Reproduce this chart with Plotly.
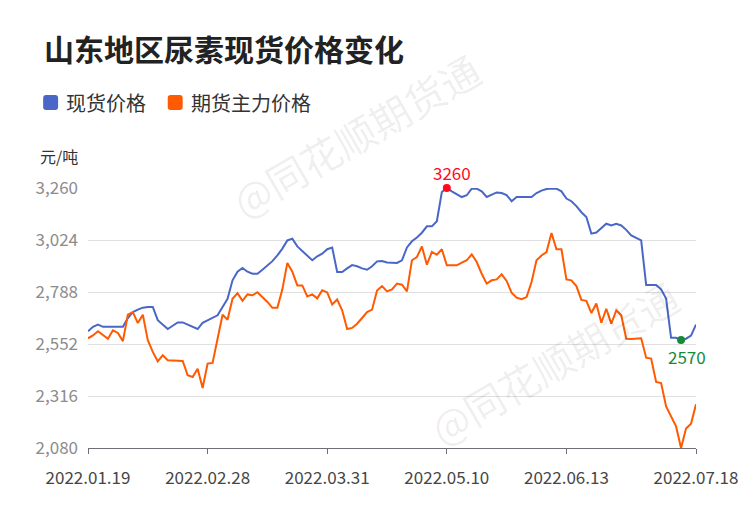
import plotly.graph_objects as go

# ---------------- data ----------------
DATE_LABELS = ["2022.01.19", "2022.02.28", "2022.03.31", "2022.05.10", "2022.06.13", "2022.07.18"]
LABEL_IDX = [0, 24, 48, 72, 96, 122]   # category positions of the labelled dates
Y_TICKS = [2080, 2316, 2552, 2788, 3024, 3260]

SPOT = [  # 现货价格
    2610, 2630, 2640, 2630, 2630, 2630, 2630, 2630, 2670, 2697,
    2708, 2717, 2720, 2720, 2660, 2640, 2620, 2635, 2650, 2650,
    2640, 2630, 2620, 2648, 2660, 2670, 2682, 2720, 2757, 2841,
    2880, 2897, 2880, 2871, 2871, 2889, 2909, 2928, 2954, 2985,
    3022, 3030, 2995, 2974, 2955, 2932, 2950, 2962, 2982, 2990,
    2879, 2879, 2895, 2910, 2905, 2895, 2889, 2905, 2927, 2929,
    2922, 2920, 2920, 2932, 2990, 3018, 3035, 3057, 3086, 3086,
    3109, 3242, 3260, 3245, 3232, 3219, 3227, 3257, 3257, 3245,
    3219, 3230, 3240, 3237, 3228, 3200, 3219, 3219, 3219, 3219,
    3237, 3248, 3255, 3258, 3257, 3245, 3212, 3200, 3178, 3150,
    3128, 3053, 3058, 3080, 3098, 3090, 3098, 3090, 3070, 3045,
    3032, 3022, 2820, 2820, 2820, 2800, 2758, 2580, 2580, 2570,
    2576, 2590, 2640,
]
FUTURES = [  # 期货主力价格
    2578, 2591, 2610, 2594, 2576, 2614, 2602, 2565, 2685, 2697,
    2647, 2685, 2569, 2516, 2473, 2501, 2478, 2477, 2476, 2475,
    2410, 2402, 2440, 2352, 2463, 2466, 2576, 2685, 2662, 2757,
    2783, 2748, 2777, 2773, 2787, 2765, 2743, 2716, 2716, 2800,
    2920, 2880, 2818, 2818, 2768, 2777, 2759, 2796, 2786, 2731,
    2754, 2705, 2620, 2625, 2644, 2670, 2697, 2708, 2795, 2815,
    2791, 2800, 2826, 2821, 2791, 2932, 2947, 2995, 2912, 2970,
    2957, 2982, 2909, 2909, 2909, 2921, 2932, 2959, 2924, 2871,
    2826, 2841, 2845, 2868, 2838, 2785, 2762, 2755, 2765, 2833,
    2932, 2954, 2969, 3056, 2982, 2982, 2845, 2841, 2815, 2752,
    2748, 2693, 2736, 2648, 2712, 2644, 2705, 2682, 2576, 2575,
    2576, 2578, 2490, 2486, 2380, 2375, 2269, 2221, 2178, 2080,
    2168, 2190, 2278,
]
SERIES_NAMES = ["现货价格", "期货主力价格"]
TITLE = "山东地区尿素现货价格变化"
UNIT = "元/吨"
WATERMARK = "@同花顺期货通"

# ---------------- styles ----------------
BLUE = "#4a67c8"
ORANGE = "#ff5a00"
RED = "#ff0a1a"
GREEN = "#17893a"
FONT = "Noto Sans CJK SC"

W, H = 750, 510
L, R, T, B = 88, 52, 188, 62
PW, PH = W - L - R, H - T - B


def px(x):
    return (x - L) / PW


def py(y):
    return (H - B - y) / PH


idx = list(range(len(SPOT)))

fig = go.Figure()
fig.add_trace(go.Scatter(x=idx, y=SPOT, mode="lines", name=SERIES_NAMES[0],
                         line=dict(color=BLUE, width=2), cliponaxis=False,
                         hoverinfo="skip"))
fig.add_trace(go.Scatter(x=idx, y=FUTURES, mode="lines", name=SERIES_NAMES[1],
                         line=dict(color=ORANGE, width=2), cliponaxis=False,
                         hoverinfo="skip"))

i_max = max(idx, key=lambda i: (SPOT[i], -i))
i_min = min(idx, key=lambda i: (SPOT[i], i))
fig.add_trace(go.Scatter(x=[i_max], y=[SPOT[i_max]], mode="markers",
                         marker=dict(color=RED, size=8), cliponaxis=False,
                         hoverinfo="skip"))
fig.add_trace(go.Scatter(x=[i_min], y=[SPOT[i_min]], mode="markers",
                         marker=dict(color=GREEN, size=8), cliponaxis=False,
                         hoverinfo="skip"))

annotations = [
    dict(x=i_max, y=SPOT[i_max], xref="x", yref="y", text=str(SPOT[i_max]),
         showarrow=False, xshift=5, yshift=16, font=dict(family=FONT, size=17, color=RED)),
    dict(x=i_min, y=SPOT[i_min], xref="x", yref="y", text=str(SPOT[i_min]),
         showarrow=False, xshift=6, yshift=-16, font=dict(family=FONT, size=17, color=GREEN)),
    dict(x=px(42), y=py(48), xref="paper", yref="paper", xanchor="left", yanchor="middle",
         text="<b>" + TITLE + "</b>", showarrow=False,
         font=dict(family=FONT, size=30, color="#222222")),
    dict(x=px(38), y=py(156), xref="paper", yref="paper", xanchor="left", yanchor="middle",
         text=UNIT, showarrow=False, font=dict(family=FONT, size=16, color="#333333")),
    dict(x=px(64), y=py(102.5), xref="paper", yref="paper", xanchor="left", yanchor="middle",
         text=SERIES_NAMES[0], showarrow=False, font=dict(family=FONT, size=20, color="#333333")),
    dict(x=px(189), y=py(102.5), xref="paper", yref="paper", xanchor="left", yanchor="middle",
         text=SERIES_NAMES[1], showarrow=False, font=dict(family=FONT, size=20, color="#333333")),
    dict(x=px(357), y=py(135), xref="paper", yref="paper", xanchor="center", yanchor="middle",
         text=WATERMARK, showarrow=False, textangle=-30,
         font=dict(family=FONT, size=40, color="rgba(0,0,0,0.07)")),
    dict(x=px(556), y=py(362), xref="paper", yref="paper", xanchor="center", yanchor="middle",
         text=WATERMARK, showarrow=False, textangle=-30,
         font=dict(family=FONT, size=40, color="rgba(0,0,0,0.07)")),
]


def rounded_square(x0, y0, size, r, color):
    x1, y1 = x0 + size, y0 + size
    pts = [
        f"M {px(x0 + r)} {py(y0)}",
        f"L {px(x1 - r)} {py(y0)}",
        f"Q {px(x1)} {py(y0)} {px(x1)} {py(y0 + r)}",
        f"L {px(x1)} {py(y1 - r)}",
        f"Q {px(x1)} {py(y1)} {px(x1 - r)} {py(y1)}",
        f"L {px(x0 + r)} {py(y1)}",
        f"Q {px(x0)} {py(y1)} {px(x0)} {py(y1 - r)}",
        f"L {px(x0)} {py(y0 + r)}",
        f"Q {px(x0)} {py(y0)} {px(x0 + r)} {py(y0)}",
        "Z",
    ]
    return dict(type="path", xref="paper", yref="paper", path=" ".join(pts),
                fillcolor=color, line=dict(width=0), layer="above")


shapes = [rounded_square(43, 95, 15, 3, BLUE), rounded_square(168, 95, 15, 3, ORANGE)]

fig.update_layout(
    width=W, height=H,
    margin=dict(l=L, r=R, t=T, b=B, pad=0),
    paper_bgcolor="white", plot_bgcolor="white",
    showlegend=False,
    annotations=annotations,
    shapes=shapes,
    font=dict(family=FONT),
    xaxis=dict(range=[0, len(SPOT) - 1], tickmode="array", tickvals=LABEL_IDX,
               ticktext=DATE_LABELS, showgrid=False, zeroline=False,
               showline=True, linecolor="#6e7079", linewidth=1,
               ticks="outside", ticklen=5, tickcolor="#6e7079", tickwidth=1,
               tickfont=dict(family=FONT, size=17, color="#464646"),
               ticklabelstandoff=10, fixedrange=True),
    yaxis=dict(range=[Y_TICKS[0], Y_TICKS[-1]], tickmode="array", tickvals=Y_TICKS,
               tickformat=",", showgrid=True, gridcolor="#e0e0e0", gridwidth=1,
               zeroline=False, showline=False, ticks="",
               tickfont=dict(family=FONT, size=17, color="#8c8c8c"),
               ticklabelstandoff=9, fixedrange=True),
)

fig.write_html("out.html", config={"displayModeBar": False})
